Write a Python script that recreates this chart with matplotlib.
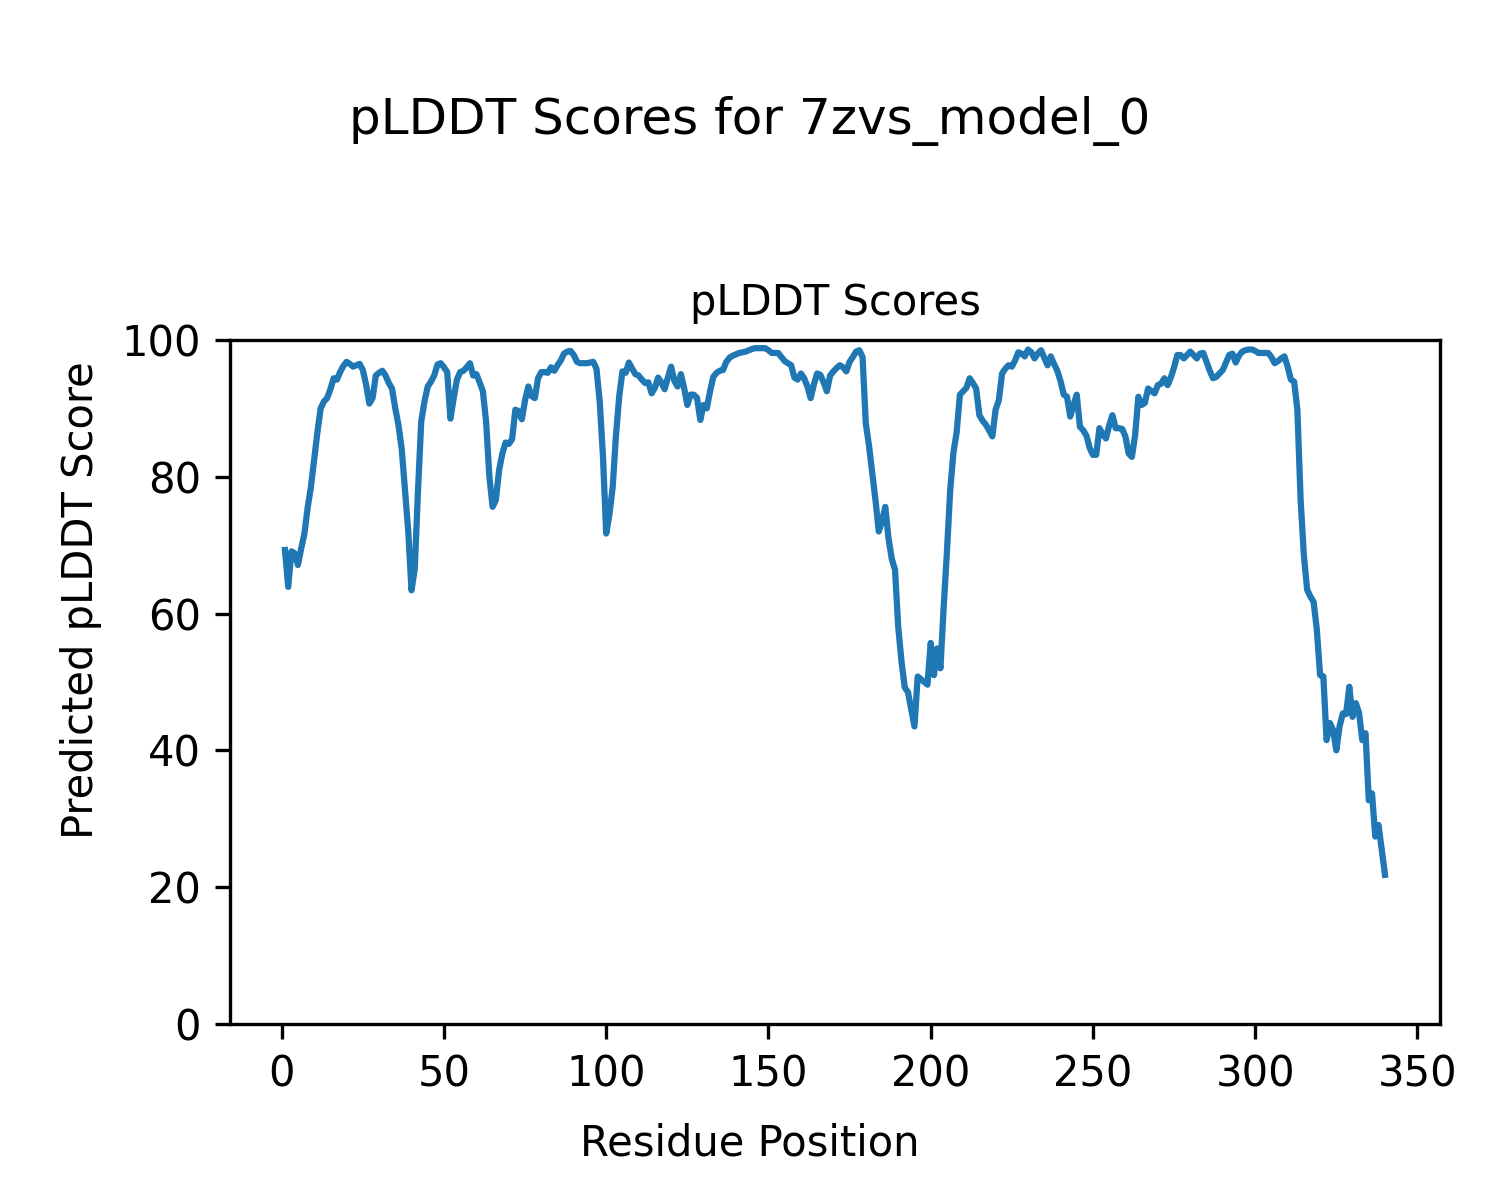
import matplotlib
matplotlib.use("Agg")
import matplotlib.pyplot as plt
import numpy as np

plddt = [
    69.3, 63.9, 69.1, 68.8, 67.1, 69.5, 71.7, 75.5, 78.5, 82.5,
    86.5, 90.0, 91.0, 91.5, 92.8, 94.4, 94.2, 95.3, 96.2, 96.8,
    96.5, 96.1, 96.3, 96.5, 95.6, 93.5, 90.7, 91.5, 94.8, 95.2,
    95.5, 94.8, 93.7, 92.9, 90.0, 87.5, 84.0, 78.0, 72.0, 63.4,
    66.5, 78.0, 88.1, 91.0, 93.2, 93.9, 94.8, 96.4, 96.6, 96.0,
    95.3, 88.5, 91.5, 94.2, 95.3, 95.5, 96.0, 96.6, 94.8, 95.0,
    93.8, 92.5, 88.0, 80.0, 75.6, 76.6, 81.0, 83.4, 85.0, 84.8,
    85.5, 89.8, 89.6, 88.4, 91.2, 93.2, 91.8, 91.5, 94.4, 95.3,
    95.3, 95.2, 96.0, 95.5, 96.3, 97.0, 98.0, 98.3, 98.4, 97.8,
    96.8, 96.6, 96.6, 96.6, 96.7, 96.8, 95.8, 91.0, 83.0, 71.7,
    74.5, 78.5, 86.0, 91.7, 95.4, 95.2, 96.7, 95.8, 95.0, 94.8,
    94.2, 93.7, 93.8, 92.2, 93.0, 94.5, 93.8, 92.8, 94.5, 96.1,
    94.0, 93.2, 95.0, 93.0, 90.5, 92.0, 92.0, 91.5, 88.3, 90.5,
    90.0, 92.5, 94.6, 95.2, 95.5, 95.6, 96.8, 97.4, 97.7, 97.9,
    98.1, 98.2, 98.3, 98.5, 98.7, 98.8, 98.8, 98.8, 98.8,
    98.5, 98.1, 98.1, 98.1, 97.5, 96.9, 96.6, 96.3, 94.5, 94.2,
    95.1, 94.4, 93.2, 91.5, 93.5, 95.1, 94.9, 93.8, 92.5, 94.8,
    95.4, 95.9, 96.3, 96.0, 95.4, 96.8, 97.5, 98.3, 98.5, 97.5,
    87.8, 84.5, 80.5, 76.5, 72.0, 73.5, 75.6, 71.0, 68.0, 66.4,
    58.0, 53.0, 49.2, 48.5, 46.0, 43.5, 50.8, 50.4, 50.0, 49.6,
    55.7, 51.0, 54.9, 52.0, 61.0, 69.0, 78.0, 83.5, 86.5, 92.0,
    92.5, 93.0, 94.4, 93.7, 92.9, 89.0, 88.2, 87.6, 86.8, 85.9,
    89.8, 91.2, 95.1, 95.8, 96.3, 96.1, 97.0, 98.2, 98.0, 97.6,
    98.6, 98.2, 97.3, 98.0, 98.5, 97.4, 96.3, 97.6, 96.5, 95.5,
    94.0, 92.0, 91.7, 88.8, 90.5, 92.0, 87.3, 86.8, 86.0, 84.2,
    83.2, 83.2, 87.1, 86.2, 85.6, 87.5, 89.0, 87.1, 87.1, 87.0,
    85.9, 83.4, 82.9, 86.1, 91.7, 90.5, 90.8, 92.9, 92.5, 92.2,
    93.4, 93.6, 94.4, 93.4, 94.5, 96.0, 97.8, 97.8, 97.3, 97.8,
    98.3, 97.8, 97.3, 98.0, 98.1, 96.8, 95.5, 94.4, 94.6, 95.1,
    95.6, 96.7, 97.8, 98.0, 96.7, 97.7, 98.3, 98.5, 98.6,
    98.6, 98.4, 98.1, 98.1, 98.1, 98.1, 97.5, 96.6, 96.9, 97.3,
    97.6, 96.1, 94.2, 93.9, 89.8, 76.6, 68.5, 63.5, 62.5, 61.7,
    57.6, 51.0, 50.8, 41.5, 44.0, 43.0, 40.0, 43.5, 45.4, 45.3,
    49.3, 44.9, 46.9, 45.5, 41.5, 42.5, 32.7, 33.7, 27.4, 29.1,
    25.5, 21.8,
]
residues = np.arange(1, len(plddt) + 1)

suptitle_text = "pLDDT Scores for 7zvs_model_0"
title_text = "pLDDT Scores"
xlabel_text = "Residue Position"
ylabel_text = "Predicted pLDDT Score"

fig = plt.figure(figsize=(5, 4), dpi=300)
ax = fig.add_axes([0.1533, 0.1467, 0.8067, 0.57])
ax.plot(residues, plddt, color="#1f77b4", linewidth=1.5)
ax.set_ylim(0, 100)
ax.set_title(title_text, fontsize=10)
fig.supxlabel(xlabel_text, fontsize=10, y=0.03)
fig.supylabel(ylabel_text, fontsize=10, x=0.04)
fig.suptitle(suptitle_text, fontsize=12, y=0.92)
fig.savefig("out.png", dpi=300)
